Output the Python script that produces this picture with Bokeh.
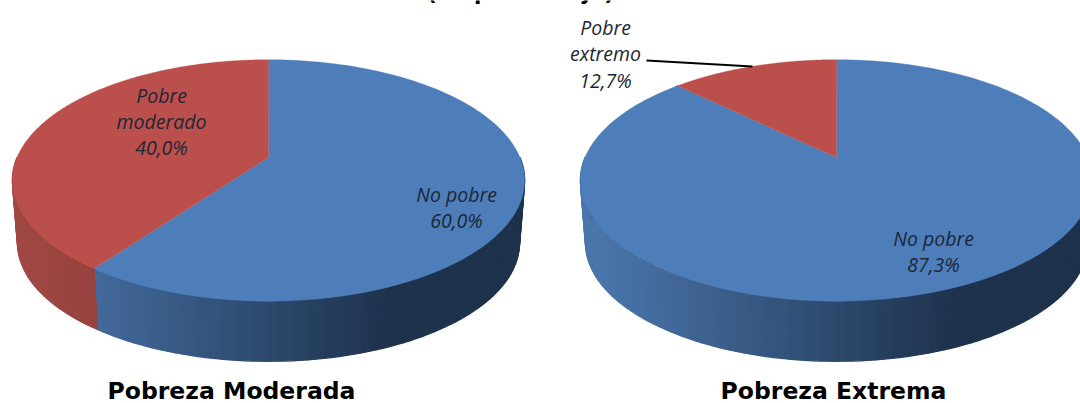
import numpy as np
from bokeh.plotting import figure
from bokeh.models import Range1d
from bokeh.core.properties import value
from bokeh.embed import file_html
from bokeh.resources import INLINE

# data
pie_titles = ["Pobreza Moderada", "Pobreza Extrema"]
no_pobre = [60.0, 87.3]
pobre = [40.0, 12.7]
pobre_names = [["Pobre", "moderado"], ["Pobre", "extremo"]]
main_title = "(en porcentaje)"

# geometry of the perspective pies (pixels)
APEX = [(268, 157), (836, 157)]
B, A, K = 251.5, 116.4, 0.19
DEPTH, SCALE = 63.0, 0.98
BLUE, RED = "#4d7eba", "#bb4f4b"

def rim(cx, cy, ang, bottom=False):
    c, s = np.sin(ang), np.cos(ang)   # ang clockwise from 12 o'clock
    d = 1 + K * s
    x, y = B * c / d, -A * s / d
    if bottom:
        return cx + SCALE * x, cy + DEPTH + SCALE * y
    return cx + x, cy + y

def lerp(c0, c1, f):
    f = min(max(f, 0), 1)
    v = [round(a + (b - a) * f) for a, b in zip(c0, c1)]
    return "#%02x%02x%02x" % tuple(v)

p = figure(width=1080, height=403, output_backend="svg", toolbar_location=None,
           x_range=Range1d(0, 1080), y_range=Range1d(403, 0), min_border=0,
           margin=0, outline_line_color=None)
p.axis.visible = False
p.grid.visible = False
p.background_fill_color = "white"

for i in range(2):
    cx, cy = APEX[i]
    split = 2 * np.pi * no_pobre[i] / (no_pobre[i] + pobre[i])
    # side wall: narrow strips, shaded from left to right
    edges = np.unique(np.r_[np.linspace(np.pi / 2, 3 * np.pi / 2, 121), split])
    xs, ys, cols = [], [], []
    for a0, a1 in zip(edges[:-1], edges[1:]):
        x0, y0 = rim(cx, cy, a0); x1, y1 = rim(cx, cy, a1)
        x2, y2 = rim(cx, cy, a1, True); x3, y3 = rim(cx, cy, a0, True)
        xs.append([x0, x1, x2, x3]); ys.append([y0, y1, y2, y3])
        f = ((x0 + x1) / 2 - (cx - B)) / (2 * B)
        if (a0 + a1) / 2 < split:
            cols.append(lerp((74, 118, 172), (30, 50, 76), (f - 0.02) / 0.72))
        else:
            cols.append(lerp((160, 72, 68), (148, 64, 60), f / 0.2))
    p.patches(xs, ys, fill_color=cols, line_color=cols, line_width=1.2)
    # top faces
    for share_from, share_to, col in ((0, split, BLUE), (split, 2 * np.pi, RED)):
        t = np.linspace(share_from, share_to, 240)
        x, y = rim(cx, cy, t)
        p.patch(np.r_[cx, x], np.r_[cy, y], fill_color=col, line_color=col, line_width=0.3)

def lab(x, ys, texts):
    p.text([x] * len(ys), ys, text=texts, text_align="center", text_baseline="middle",
           text_font=value("Open Sans"), text_font_style="italic",
           text_font_size="19.5px", text_color="#1b2738")

lab(161, [95, 121, 147], pobre_names[0] + [f"{pobre[0]:.1f}%".replace(".", ",")])
lab(456, [194, 220], ["No pobre", f"{no_pobre[0]:.1f}%".replace(".", ",")])
lab(605, [27, 53, 80], pobre_names[1] + [f"{pobre[1]:.1f}%".replace(".", ",")])
lab(933, [238, 264], ["No pobre", f"{no_pobre[1]:.1f}%".replace(".", ",")])

p.line([646, 752], [60, 66], line_color="black", line_width=2)

p.text([231, 833], [390, 390], text=pie_titles, text_align="center", text_baseline="middle",
       text_font=value("DejaVu Sans"), text_font_style="bold", text_font_size="23.5px", text_color="black")
p.text([520], [-8], text=[main_title], text_align="center", text_baseline="middle",
       text_font=value("DejaVu Sans"), text_font_style="bold", text_font_size="21.5px", text_color="black")

open("out.html", "w").write(file_html(p, INLINE))
